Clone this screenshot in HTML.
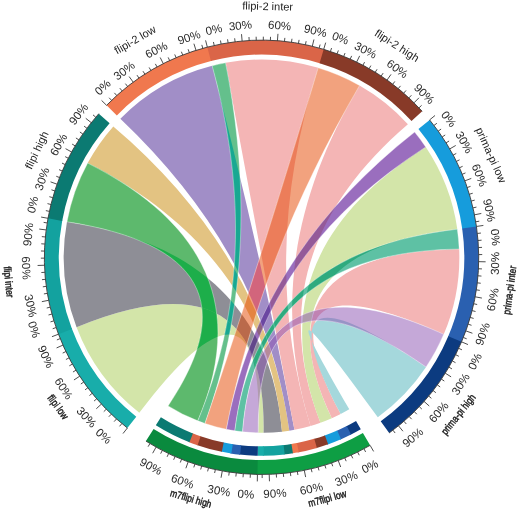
<!DOCTYPE html>
<html><head><meta charset="utf-8"><style>
html,body{margin:0;padding:0;background:#fff;}
svg{display:block;will-change:transform;}
</style></head><body>
<svg width="520" height="512" viewBox="0 0 520 512">
<rect width="520" height="512" fill="#fff"/>
<defs>
<clipPath id="cl0"><path d="M139.28,412.84 A197.8,197.8 0 0 1 76.56,327.36 C203.58,275.27 265.93,310.43 263.6,432.84 A175.5,175.5 0 0 1 258.21,432.82 C262.99,308.7 223.34,302.03 139.28,412.84 Z"/></clipPath>
<clipPath id="cl1"><path d="M76.56,327.36 A197.8,197.8 0 0 1 66.97,221.78 C200.16,242.24 271.84,312.2 282.03,431.65 A175.5,175.5 0 0 1 263.6,432.84 C265.93,310.43 203.58,275.27 76.56,327.36 Z"/></clipPath>
<clipPath id="cl2"><path d="M87.65,163.09 A197.8,197.8 0 0 1 113.29,126.41 C214.5,212.4 273.17,313.81 289.31,430.64 A175.5,175.5 0 0 1 282.03,431.65 C271.43,313.38 206.63,223.86 87.65,163.09 Z"/></clipPath>
<clipPath id="cl3"><path d="M120.35,118.83 A197.8,197.8 0 0 1 212.16,65.82 C245.34,193.45 272.76,314.76 294.44,429.74 A175.5,175.5 0 0 1 289.31,430.64 C273.03,313.97 216.71,210.03 120.35,118.83 Z"/></clipPath>
<clipPath id="cl4"><path d="M225.5,62.86 A197.8,197.8 0 0 1 318.16,67.82 C278.16,194.17 275.61,313.52 310.51,425.88 A175.5,175.5 0 0 1 294.44,429.74 C272.49,314.82 249.51,192.52 225.5,62.86 Z"/></clipPath>
<clipPath id="cl5"><path d="M359.55,85.53 A197.8,197.8 0 0 1 407.9,124.28 C306.03,211.92 276.87,311.38 320.42,422.68 A175.5,175.5 0 0 1 310.51,425.88 C274.77,313.16 291.12,199.71 359.55,85.53 Z"/></clipPath>
<clipPath id="cl6"><path d="M425.73,147.03 A197.8,197.8 0 0 1 457.33,229.17 C321.25,244.86 279.41,307.86 331.81,418.17 A175.5,175.5 0 0 1 320.42,422.68 C276.51,310.92 311.61,219.04 425.73,147.03 Z"/></clipPath>
<clipPath id="cl7"><path d="M459.18,249.07 A197.8,197.8 0 0 1 443.76,334.32 C316.8,277.88 282.44,304.44 340.68,414 A175.5,175.5 0 0 1 331.81,418.17 C279.37,307.46 321.83,251.09 459.18,249.07 Z"/></clipPath>
<clipPath id="cl8"><path d="M426.11,367.1 A197.8,197.8 0 0 1 377.81,417.37 C295.95,303.99 286.45,301.31 349.3,409.34 A175.5,175.5 0 0 1 340.68,414 C282.8,303.78 311.27,288.14 426.11,367.1 Z"/></clipPath>
</defs>
<g id="chords">
<path d="M139.28,412.84 A197.8,197.8 0 0 1 76.56,327.36 C203.58,275.27 265.93,310.43 263.6,432.84 A175.5,175.5 0 0 1 258.21,432.82 C262.99,308.7 223.34,302.03 139.28,412.84 Z" fill="#D3E5A9"/>
<path d="M76.56,327.36 A197.8,197.8 0 0 1 66.97,221.78 C200.16,242.24 271.84,312.2 282.03,431.65 A175.5,175.5 0 0 1 263.6,432.84 C265.93,310.43 203.58,275.27 76.56,327.36 Z" fill="#8E8E96"/>
<path d="M87.65,163.09 A197.8,197.8 0 0 1 113.29,126.41 C214.5,212.4 273.17,313.81 289.31,430.64 A175.5,175.5 0 0 1 282.03,431.65 C271.43,313.38 206.63,223.86 87.65,163.09 Z" fill="#E3C382"/>
<path d="M120.35,118.83 A197.8,197.8 0 0 1 212.16,65.82 C245.34,193.45 272.76,314.76 294.44,429.74 A175.5,175.5 0 0 1 289.31,430.64 C273.03,313.97 216.71,210.03 120.35,118.83 Z" fill="#A18EC7"/>
<path d="M225.5,62.86 A197.8,197.8 0 0 1 318.16,67.82 C278.16,194.17 275.61,313.52 310.51,425.88 A175.5,175.5 0 0 1 294.44,429.74 C272.49,314.82 249.51,192.52 225.5,62.86 Z" fill="#F4B5B5"/>
<path d="M359.55,85.53 A197.8,197.8 0 0 1 407.9,124.28 C306.03,211.92 276.87,311.38 320.42,422.68 A175.5,175.5 0 0 1 310.51,425.88 C274.77,313.16 291.12,199.71 359.55,85.53 Z" fill="#F4B5B5"/>
<path d="M425.73,147.03 A197.8,197.8 0 0 1 457.33,229.17 C321.25,244.86 279.41,307.86 331.81,418.17 A175.5,175.5 0 0 1 320.42,422.68 C276.51,310.92 311.61,219.04 425.73,147.03 Z" fill="#D3E5A9"/>
<path d="M459.18,249.07 A197.8,197.8 0 0 1 443.76,334.32 C316.8,277.88 282.44,304.44 340.68,414 A175.5,175.5 0 0 1 331.81,418.17 C279.37,307.46 321.83,251.09 459.18,249.07 Z" fill="#F4B5B5"/>
<path d="M426.11,367.1 A197.8,197.8 0 0 1 377.81,417.37 C295.95,303.99 286.45,301.31 349.3,409.34 A175.5,175.5 0 0 1 340.68,414 C282.8,303.78 311.27,288.14 426.11,367.1 Z" fill="#A5D8DC"/>
<path d="M66.97,221.78 A197.8,197.8 0 0 1 87.65,163.09 C208.55,224.11 245.27,310.03 197.8,420.86 A175.5,175.5 0 0 1 168.08,405.89 C236.46,304.2 202.76,242.83 66.97,221.78 Z" fill="#5DB96D"/>
<path d="M66.97,221.78 A197.8,197.8 0 0 1 87.65,163.09 C208.55,224.11 245.27,310.03 197.8,420.86 A175.5,175.5 0 0 1 168.08,405.89 C236.46,304.2 202.76,242.83 66.97,221.78 Z" fill="#1DAE4A" clip-path="url(#cl0)"/>
<path d="M66.97,221.78 A197.8,197.8 0 0 1 87.65,163.09 C208.55,224.11 245.27,310.03 197.8,420.86 A175.5,175.5 0 0 1 168.08,405.89 C236.46,304.2 202.76,242.83 66.97,221.78 Z" fill="#1DAE4A" clip-path="url(#cl1)"/>
<path d="M66.97,221.78 A197.8,197.8 0 0 1 87.65,163.09 C208.55,224.11 245.27,310.03 197.8,420.86 A175.5,175.5 0 0 1 168.08,405.89 C236.46,304.2 202.76,242.83 66.97,221.78 Z" fill="#1DAE4A" clip-path="url(#cl2)"/>
<path d="M66.97,221.78 A197.8,197.8 0 0 1 87.65,163.09 C208.55,224.11 245.27,310.03 197.8,420.86 A175.5,175.5 0 0 1 168.08,405.89 C236.46,304.2 202.76,242.83 66.97,221.78 Z" fill="#1DAE4A" clip-path="url(#cl3)"/>
<path d="M66.97,221.78 A197.8,197.8 0 0 1 87.65,163.09 C208.55,224.11 245.27,310.03 197.8,420.86 A175.5,175.5 0 0 1 168.08,405.89 C236.46,304.2 202.76,242.83 66.97,221.78 Z" fill="#1DAE4A" clip-path="url(#cl4)"/>
<path d="M66.97,221.78 A197.8,197.8 0 0 1 87.65,163.09 C208.55,224.11 245.27,310.03 197.8,420.86 A175.5,175.5 0 0 1 168.08,405.89 C236.46,304.2 202.76,242.83 66.97,221.78 Z" fill="#1DAE4A" clip-path="url(#cl5)"/>
<path d="M66.97,221.78 A197.8,197.8 0 0 1 87.65,163.09 C208.55,224.11 245.27,310.03 197.8,420.86 A175.5,175.5 0 0 1 168.08,405.89 C236.46,304.2 202.76,242.83 66.97,221.78 Z" fill="#1DAE4A" clip-path="url(#cl6)"/>
<path d="M66.97,221.78 A197.8,197.8 0 0 1 87.65,163.09 C208.55,224.11 245.27,310.03 197.8,420.86 A175.5,175.5 0 0 1 168.08,405.89 C236.46,304.2 202.76,242.83 66.97,221.78 Z" fill="#1DAE4A" clip-path="url(#cl7)"/>
<path d="M66.97,221.78 A197.8,197.8 0 0 1 87.65,163.09 C208.55,224.11 245.27,310.03 197.8,420.86 A175.5,175.5 0 0 1 168.08,405.89 C236.46,304.2 202.76,242.83 66.97,221.78 Z" fill="#1DAE4A" clip-path="url(#cl8)"/>
<path d="M66.97,221.78 A197.8,197.8 0 0 1 87.65,163.09 C208.55,224.11 245.27,310.03 197.8,420.86 A175.5,175.5 0 0 1 168.08,405.89 C236.46,304.2 202.76,242.83 66.97,221.78 Z" fill="none" stroke="#fff" stroke-opacity="0.35" stroke-width="1.0"/>
<path d="M212.16,65.82 A197.8,197.8 0 0 1 225.5,62.86 C251.55,192.67 244.72,312.88 204.99,423.49 A175.5,175.5 0 0 1 197.8,420.86 C242.75,312 247.54,193.65 212.16,65.82 Z" fill="#64C08C"/>
<path d="M212.16,65.82 A197.8,197.8 0 0 1 225.5,62.86 C251.55,192.67 244.72,312.88 204.99,423.49 A175.5,175.5 0 0 1 197.8,420.86 C242.75,312 247.54,193.65 212.16,65.82 Z" fill="#18A892" clip-path="url(#cl0)"/>
<path d="M212.16,65.82 A197.8,197.8 0 0 1 225.5,62.86 C251.55,192.67 244.72,312.88 204.99,423.49 A175.5,175.5 0 0 1 197.8,420.86 C242.75,312 247.54,193.65 212.16,65.82 Z" fill="#18A892" clip-path="url(#cl1)"/>
<path d="M212.16,65.82 A197.8,197.8 0 0 1 225.5,62.86 C251.55,192.67 244.72,312.88 204.99,423.49 A175.5,175.5 0 0 1 197.8,420.86 C242.75,312 247.54,193.65 212.16,65.82 Z" fill="#18A892" clip-path="url(#cl2)"/>
<path d="M212.16,65.82 A197.8,197.8 0 0 1 225.5,62.86 C251.55,192.67 244.72,312.88 204.99,423.49 A175.5,175.5 0 0 1 197.8,420.86 C242.75,312 247.54,193.65 212.16,65.82 Z" fill="#18A892" clip-path="url(#cl3)"/>
<path d="M212.16,65.82 A197.8,197.8 0 0 1 225.5,62.86 C251.55,192.67 244.72,312.88 204.99,423.49 A175.5,175.5 0 0 1 197.8,420.86 C242.75,312 247.54,193.65 212.16,65.82 Z" fill="#18A892" clip-path="url(#cl4)"/>
<path d="M212.16,65.82 A197.8,197.8 0 0 1 225.5,62.86 C251.55,192.67 244.72,312.88 204.99,423.49 A175.5,175.5 0 0 1 197.8,420.86 C242.75,312 247.54,193.65 212.16,65.82 Z" fill="#18A892" clip-path="url(#cl5)"/>
<path d="M212.16,65.82 A197.8,197.8 0 0 1 225.5,62.86 C251.55,192.67 244.72,312.88 204.99,423.49 A175.5,175.5 0 0 1 197.8,420.86 C242.75,312 247.54,193.65 212.16,65.82 Z" fill="#18A892" clip-path="url(#cl6)"/>
<path d="M212.16,65.82 A197.8,197.8 0 0 1 225.5,62.86 C251.55,192.67 244.72,312.88 204.99,423.49 A175.5,175.5 0 0 1 197.8,420.86 C242.75,312 247.54,193.65 212.16,65.82 Z" fill="#18A892" clip-path="url(#cl7)"/>
<path d="M212.16,65.82 A197.8,197.8 0 0 1 225.5,62.86 C251.55,192.67 244.72,312.88 204.99,423.49 A175.5,175.5 0 0 1 197.8,420.86 C242.75,312 247.54,193.65 212.16,65.82 Z" fill="#18A892" clip-path="url(#cl8)"/>
<path d="M212.16,65.82 A197.8,197.8 0 0 1 225.5,62.86 C251.55,192.67 244.72,312.88 204.99,423.49 A175.5,175.5 0 0 1 197.8,420.86 C242.75,312 247.54,193.65 212.16,65.82 Z" fill="none" stroke="#fff" stroke-opacity="0.35" stroke-width="1.0"/>
<path d="M318.16,67.82 A197.8,197.8 0 0 1 359.55,85.53 C293.04,199.63 248.66,314.22 226.41,429.3 A175.5,175.5 0 0 1 204.99,423.49 C242.84,312.78 280.56,194.22 318.16,67.82 Z" fill="#F2A27E"/>
<path d="M318.16,67.82 A197.8,197.8 0 0 1 359.55,85.53 C293.04,199.63 248.66,314.22 226.41,429.3 A175.5,175.5 0 0 1 204.99,423.49 C242.84,312.78 280.56,194.22 318.16,67.82 Z" fill="#DC9554" clip-path="url(#cl0)"/>
<path d="M318.16,67.82 A197.8,197.8 0 0 1 359.55,85.53 C293.04,199.63 248.66,314.22 226.41,429.3 A175.5,175.5 0 0 1 204.99,423.49 C242.84,312.78 280.56,194.22 318.16,67.82 Z" fill="#BA6A4B" clip-path="url(#cl1)"/>
<path d="M318.16,67.82 A197.8,197.8 0 0 1 359.55,85.53 C293.04,199.63 248.66,314.22 226.41,429.3 A175.5,175.5 0 0 1 204.99,423.49 C242.84,312.78 280.56,194.22 318.16,67.82 Z" fill="#E48441" clip-path="url(#cl2)"/>
<path d="M318.16,67.82 A197.8,197.8 0 0 1 359.55,85.53 C293.04,199.63 248.66,314.22 226.41,429.3 A175.5,175.5 0 0 1 204.99,423.49 C242.84,312.78 280.56,194.22 318.16,67.82 Z" fill="#D2657C" clip-path="url(#cl3)"/>
<path d="M318.16,67.82 A197.8,197.8 0 0 1 359.55,85.53 C293.04,199.63 248.66,314.22 226.41,429.3 A175.5,175.5 0 0 1 204.99,423.49 C242.84,312.78 280.56,194.22 318.16,67.82 Z" fill="#EC7D5A" clip-path="url(#cl4)"/>
<path d="M318.16,67.82 A197.8,197.8 0 0 1 359.55,85.53 C293.04,199.63 248.66,314.22 226.41,429.3 A175.5,175.5 0 0 1 204.99,423.49 C242.84,312.78 280.56,194.22 318.16,67.82 Z" fill="#EC7D5A" clip-path="url(#cl5)"/>
<path d="M318.16,67.82 A197.8,197.8 0 0 1 359.55,85.53 C293.04,199.63 248.66,314.22 226.41,429.3 A175.5,175.5 0 0 1 204.99,423.49 C242.84,312.78 280.56,194.22 318.16,67.82 Z" fill="#DC9554" clip-path="url(#cl6)"/>
<path d="M318.16,67.82 A197.8,197.8 0 0 1 359.55,85.53 C293.04,199.63 248.66,314.22 226.41,429.3 A175.5,175.5 0 0 1 204.99,423.49 C242.84,312.78 280.56,194.22 318.16,67.82 Z" fill="#EC7D5A" clip-path="url(#cl7)"/>
<path d="M318.16,67.82 A197.8,197.8 0 0 1 359.55,85.53 C293.04,199.63 248.66,314.22 226.41,429.3 A175.5,175.5 0 0 1 204.99,423.49 C242.84,312.78 280.56,194.22 318.16,67.82 Z" fill="#C58E6E" clip-path="url(#cl8)"/>
<path d="M318.16,67.82 A197.8,197.8 0 0 1 359.55,85.53 C293.04,199.63 248.66,314.22 226.41,429.3 A175.5,175.5 0 0 1 204.99,423.49 C242.84,312.78 280.56,194.22 318.16,67.82 Z" fill="none" stroke="#fff" stroke-opacity="0.35" stroke-width="1.0"/>
<path d="M414.66,132.12 A197.8,197.8 0 0 1 425.73,147.03 C313.56,218.85 249.94,313.45 234.85,430.81 A175.5,175.5 0 0 1 226.41,429.3 C247.54,313.28 310.29,214.22 414.66,132.12 Z" fill="#9A6EBE"/>
<path d="M414.66,132.12 A197.8,197.8 0 0 1 425.73,147.03 C313.56,218.85 249.94,313.45 234.85,430.81 A175.5,175.5 0 0 1 226.41,429.3 C247.54,313.28 310.29,214.22 414.66,132.12 Z" fill="#847293" clip-path="url(#cl0)"/>
<path d="M414.66,132.12 A197.8,197.8 0 0 1 425.73,147.03 C313.56,218.85 249.94,313.45 234.85,430.81 A175.5,175.5 0 0 1 226.41,429.3 C247.54,313.28 310.29,214.22 414.66,132.12 Z" fill="#62478A" clip-path="url(#cl1)"/>
<path d="M414.66,132.12 A197.8,197.8 0 0 1 425.73,147.03 C313.56,218.85 249.94,313.45 234.85,430.81 A175.5,175.5 0 0 1 226.41,429.3 C247.54,313.28 310.29,214.22 414.66,132.12 Z" fill="#8C6280" clip-path="url(#cl2)"/>
<path d="M414.66,132.12 A197.8,197.8 0 0 1 425.73,147.03 C313.56,218.85 249.94,313.45 234.85,430.81 A175.5,175.5 0 0 1 226.41,429.3 C247.54,313.28 310.29,214.22 414.66,132.12 Z" fill="#6B47A2" clip-path="url(#cl3)"/>
<path d="M414.66,132.12 A197.8,197.8 0 0 1 425.73,147.03 C313.56,218.85 249.94,313.45 234.85,430.81 A175.5,175.5 0 0 1 226.41,429.3 C247.54,313.28 310.29,214.22 414.66,132.12 Z" fill="#945A99" clip-path="url(#cl4)"/>
<path d="M414.66,132.12 A197.8,197.8 0 0 1 425.73,147.03 C313.56,218.85 249.94,313.45 234.85,430.81 A175.5,175.5 0 0 1 226.41,429.3 C247.54,313.28 310.29,214.22 414.66,132.12 Z" fill="#945A99" clip-path="url(#cl5)"/>
<path d="M414.66,132.12 A197.8,197.8 0 0 1 425.73,147.03 C313.56,218.85 249.94,313.45 234.85,430.81 A175.5,175.5 0 0 1 226.41,429.3 C247.54,313.28 310.29,214.22 414.66,132.12 Z" fill="#847293" clip-path="url(#cl6)"/>
<path d="M414.66,132.12 A197.8,197.8 0 0 1 425.73,147.03 C313.56,218.85 249.94,313.45 234.85,430.81 A175.5,175.5 0 0 1 226.41,429.3 C247.54,313.28 310.29,214.22 414.66,132.12 Z" fill="#945A99" clip-path="url(#cl7)"/>
<path d="M414.66,132.12 A197.8,197.8 0 0 1 425.73,147.03 C313.56,218.85 249.94,313.45 234.85,430.81 A175.5,175.5 0 0 1 226.41,429.3 C247.54,313.28 310.29,214.22 414.66,132.12 Z" fill="#6D6CAC" clip-path="url(#cl8)"/>
<path d="M414.66,132.12 A197.8,197.8 0 0 1 425.73,147.03 C313.56,218.85 249.94,313.45 234.85,430.81 A175.5,175.5 0 0 1 226.41,429.3 C247.54,313.28 310.29,214.22 414.66,132.12 Z" fill="none" stroke="#fff" stroke-opacity="0.35" stroke-width="1.0"/>
<path d="M457.33,229.17 A197.8,197.8 0 0 1 459.18,249.07 C323.86,250.78 251.67,311.7 242.6,431.82 A175.5,175.5 0 0 1 234.85,430.81 C249.3,311.79 323.46,244.57 457.33,229.17 Z" fill="#5EC1A4"/>
<path d="M457.33,229.17 A197.8,197.8 0 0 1 459.18,249.07 C323.86,250.78 251.67,311.7 242.6,431.82 A175.5,175.5 0 0 1 234.85,430.81 C249.3,311.79 323.46,244.57 457.33,229.17 Z" fill="#2EAA7E" clip-path="url(#cl0)"/>
<path d="M457.33,229.17 A197.8,197.8 0 0 1 459.18,249.07 C323.86,250.78 251.67,311.7 242.6,431.82 A175.5,175.5 0 0 1 234.85,430.81 C249.3,311.79 323.46,244.57 457.33,229.17 Z" fill="#2EAA7E" clip-path="url(#cl1)"/>
<path d="M457.33,229.17 A197.8,197.8 0 0 1 459.18,249.07 C323.86,250.78 251.67,311.7 242.6,431.82 A175.5,175.5 0 0 1 234.85,430.81 C249.3,311.79 323.46,244.57 457.33,229.17 Z" fill="#2EAA7E" clip-path="url(#cl2)"/>
<path d="M457.33,229.17 A197.8,197.8 0 0 1 459.18,249.07 C323.86,250.78 251.67,311.7 242.6,431.82 A175.5,175.5 0 0 1 234.85,430.81 C249.3,311.79 323.46,244.57 457.33,229.17 Z" fill="#2EAA7E" clip-path="url(#cl3)"/>
<path d="M457.33,229.17 A197.8,197.8 0 0 1 459.18,249.07 C323.86,250.78 251.67,311.7 242.6,431.82 A175.5,175.5 0 0 1 234.85,430.81 C249.3,311.79 323.46,244.57 457.33,229.17 Z" fill="#2EAA7E" clip-path="url(#cl4)"/>
<path d="M457.33,229.17 A197.8,197.8 0 0 1 459.18,249.07 C323.86,250.78 251.67,311.7 242.6,431.82 A175.5,175.5 0 0 1 234.85,430.81 C249.3,311.79 323.46,244.57 457.33,229.17 Z" fill="#2EAA7E" clip-path="url(#cl5)"/>
<path d="M457.33,229.17 A197.8,197.8 0 0 1 459.18,249.07 C323.86,250.78 251.67,311.7 242.6,431.82 A175.5,175.5 0 0 1 234.85,430.81 C249.3,311.79 323.46,244.57 457.33,229.17 Z" fill="#2EAA7E" clip-path="url(#cl6)"/>
<path d="M457.33,229.17 A197.8,197.8 0 0 1 459.18,249.07 C323.86,250.78 251.67,311.7 242.6,431.82 A175.5,175.5 0 0 1 234.85,430.81 C249.3,311.79 323.46,244.57 457.33,229.17 Z" fill="#2EAA7E" clip-path="url(#cl7)"/>
<path d="M457.33,229.17 A197.8,197.8 0 0 1 459.18,249.07 C323.86,250.78 251.67,311.7 242.6,431.82 A175.5,175.5 0 0 1 234.85,430.81 C249.3,311.79 323.46,244.57 457.33,229.17 Z" fill="#2EAA7E" clip-path="url(#cl8)"/>
<path d="M457.33,229.17 A197.8,197.8 0 0 1 459.18,249.07 C323.86,250.78 251.67,311.7 242.6,431.82 A175.5,175.5 0 0 1 234.85,430.81 C249.3,311.79 323.46,244.57 457.33,229.17 Z" fill="none" stroke="#fff" stroke-opacity="0.35" stroke-width="1.0"/>
<path d="M443.76,334.32 A197.8,197.8 0 0 1 426.11,367.1 C313.15,287.71 257.19,309.62 258.21,432.82 A175.5,175.5 0 0 1 242.6,431.82 C251.98,309.97 319.03,277.47 443.76,334.32 Z" fill="#C5A8D8"/>
<path d="M443.76,334.32 A197.8,197.8 0 0 1 426.11,367.1 C313.15,287.71 257.19,309.62 258.21,432.82 A175.5,175.5 0 0 1 242.6,431.82 C251.98,309.97 319.03,277.47 443.76,334.32 Z" fill="#AF9BAD" clip-path="url(#cl0)"/>
<path d="M443.76,334.32 A197.8,197.8 0 0 1 426.11,367.1 C313.15,287.71 257.19,309.62 258.21,432.82 A175.5,175.5 0 0 1 242.6,431.82 C251.98,309.97 319.03,277.47 443.76,334.32 Z" fill="#8C70A4" clip-path="url(#cl1)"/>
<path d="M443.76,334.32 A197.8,197.8 0 0 1 426.11,367.1 C313.15,287.71 257.19,309.62 258.21,432.82 A175.5,175.5 0 0 1 242.6,431.82 C251.98,309.97 319.03,277.47 443.76,334.32 Z" fill="#B78A9A" clip-path="url(#cl2)"/>
<path d="M443.76,334.32 A197.8,197.8 0 0 1 426.11,367.1 C313.15,287.71 257.19,309.62 258.21,432.82 A175.5,175.5 0 0 1 242.6,431.82 C251.98,309.97 319.03,277.47 443.76,334.32 Z" fill="#9670BC" clip-path="url(#cl3)"/>
<path d="M443.76,334.32 A197.8,197.8 0 0 1 426.11,367.1 C313.15,287.71 257.19,309.62 258.21,432.82 A175.5,175.5 0 0 1 242.6,431.82 C251.98,309.97 319.03,277.47 443.76,334.32 Z" fill="#C083B3" clip-path="url(#cl4)"/>
<path d="M443.76,334.32 A197.8,197.8 0 0 1 426.11,367.1 C313.15,287.71 257.19,309.62 258.21,432.82 A175.5,175.5 0 0 1 242.6,431.82 C251.98,309.97 319.03,277.47 443.76,334.32 Z" fill="#C083B3" clip-path="url(#cl5)"/>
<path d="M443.76,334.32 A197.8,197.8 0 0 1 426.11,367.1 C313.15,287.71 257.19,309.62 258.21,432.82 A175.5,175.5 0 0 1 242.6,431.82 C251.98,309.97 319.03,277.47 443.76,334.32 Z" fill="#AF9BAD" clip-path="url(#cl6)"/>
<path d="M443.76,334.32 A197.8,197.8 0 0 1 426.11,367.1 C313.15,287.71 257.19,309.62 258.21,432.82 A175.5,175.5 0 0 1 242.6,431.82 C251.98,309.97 319.03,277.47 443.76,334.32 Z" fill="#C083B3" clip-path="url(#cl7)"/>
<path d="M443.76,334.32 A197.8,197.8 0 0 1 426.11,367.1 C313.15,287.71 257.19,309.62 258.21,432.82 A175.5,175.5 0 0 1 242.6,431.82 C251.98,309.97 319.03,277.47 443.76,334.32 Z" fill="#9894C6" clip-path="url(#cl8)"/>
<path d="M443.76,334.32 A197.8,197.8 0 0 1 426.11,367.1 C313.15,287.71 257.19,309.62 258.21,432.82 A175.5,175.5 0 0 1 242.6,431.82 C251.98,309.97 319.03,277.47 443.76,334.32 Z" fill="none" stroke="#fff" stroke-opacity="0.35" stroke-width="1.0"/>
</g>
<g id="bands">
<path d="M106.57,105.32 A217.1,217.1 0 0 1 208.44,46.85 L211.97,60.81 A202.7,202.7 0 0 0 116.85,115.4 Z" fill="#F0784E"/>
<path d="M207.34,47.13 A217.1,217.1 0 0 1 324.78,49.66 L320.58,63.44 A202.7,202.7 0 0 0 210.94,61.07 Z" fill="#DA6548"/>
<path d="M323.69,49.33 A217.1,217.1 0 0 1 422.18,111.3 L411.53,120.99 A202.7,202.7 0 0 0 319.57,63.13 Z" fill="#883A28"/>
<path d="M429.61,119.91 A217.1,217.1 0 0 1 476.6,227.56 L462.33,229.54 A202.7,202.7 0 0 0 418.46,129.03 Z" fill="#169CDC"/>
<path d="M476.44,226.44 A217.1,217.1 0 0 1 461.09,342.89 L447.85,337.22 A202.7,202.7 0 0 0 462.18,228.49 Z" fill="#2A60B0"/>
<path d="M461.53,341.84 A217.1,217.1 0 0 1 389.17,432.98 L380.71,421.33 A202.7,202.7 0 0 0 448.27,336.24 Z" fill="#0C3B80"/>
<path d="M370.12,445.36 A217.1,217.1 0 0 1 256.3,474.39 L256.65,459.99 A202.7,202.7 0 0 0 362.91,432.89 Z" fill="#0E9E44"/>
<path d="M257.43,474.41 A217.1,217.1 0 0 1 145.94,441.1 L153.6,428.92 A202.7,202.7 0 0 0 257.71,460.01 Z" fill="#0A8A3E"/>
<path d="M127.36,428.01 A217.1,217.1 0 0 1 58.11,333.14 L71.6,328.11 A202.7,202.7 0 0 0 136.26,416.69 Z" fill="#18ADAA"/>
<path d="M58.51,334.2 A217.1,217.1 0 0 1 48.2,217.19 L62.35,219.86 A202.7,202.7 0 0 0 71.98,329.1 Z" fill="#13A29F"/>
<path d="M47.99,218.31 A217.1,217.1 0 0 1 98.83,113.64 L109.62,123.17 A202.7,202.7 0 0 0 62.15,220.9 Z" fill="#0B7A72"/>
</g>
<g id="tb">
<path d="M360.8,429.26 A198.5,198.5 0 0 1 350.12,434.99 L345.88,426.49 A189,189 0 0 0 356.05,421.03 Z" fill="#0C3B80"/>
<path d="M351.05,434.53 A198.5,198.5 0 0 1 340.07,439.66 L336.31,430.94 A189,189 0 0 0 346.77,426.05 Z" fill="#2A60B0"/>
<path d="M341.02,439.25 A198.5,198.5 0 0 1 327.16,444.69 L324.02,435.73 A189,189 0 0 0 337.22,430.54 Z" fill="#169CDC"/>
<path d="M328.14,444.35 A198.5,198.5 0 0 1 315.93,448.26 L313.33,439.12 A189,189 0 0 0 324.95,435.4 Z" fill="#883A28"/>
<path d="M316.93,447.97 A198.5,198.5 0 0 1 297.72,452.53 L295.99,443.19 A189,189 0 0 0 314.28,438.85 Z" fill="#DA6548"/>
<path d="M298.75,452.33 A198.5,198.5 0 0 1 291.92,453.51 L290.46,444.13 A189,189 0 0 0 296.97,443 Z" fill="#F0784E"/>
<path d="M292.94,453.35 A198.5,198.5 0 0 1 283.68,454.61 L282.62,445.17 A189,189 0 0 0 291.44,443.97 Z" fill="#0B7A72"/>
<path d="M284.71,454.49 A198.5,198.5 0 0 1 262.83,455.85 L262.77,446.35 A189,189 0 0 0 283.6,445.06 Z" fill="#13A29F"/>
<path d="M263.87,455.84 A198.5,198.5 0 0 1 257.77,455.81 L257.95,446.32 A189,189 0 0 0 263.76,446.34 Z" fill="#18ADAA"/>
<path d="M257.77,455.81 A198.5,198.5 0 0 1 239.08,454.57 L240.15,445.14 A189,189 0 0 0 257.95,446.32 Z" fill="#0C3B80"/>
<path d="M240.11,454.69 A198.5,198.5 0 0 1 230.33,453.38 L231.82,444 A189,189 0 0 0 241.14,445.24 Z" fill="#2A60B0"/>
<path d="M231.35,453.54 A198.5,198.5 0 0 1 220.79,451.62 L222.74,442.32 A189,189 0 0 0 232.8,444.15 Z" fill="#169CDC"/>
<path d="M221.81,451.83 A198.5,198.5 0 0 1 196.6,444.92 L199.71,435.95 A189,189 0 0 0 223.71,442.52 Z" fill="#883A28"/>
<path d="M197.58,445.26 A198.5,198.5 0 0 1 188.48,441.91 L191.97,433.08 A189,189 0 0 0 200.64,436.27 Z" fill="#DA6548"/>
<path d="M189.44,442.29 A198.5,198.5 0 0 1 155.83,425.36 L160.89,417.32 A189,189 0 0 0 192.9,433.44 Z" fill="#0B7A72"/>
</g>
<g id="axis" stroke="#3a3a3a" fill="none">
<path d="M106.57,105.32 A217.1,217.1 0 0 1 207.34,47.13" stroke-width="0.9"/>
<line x1="106.57" y1="105.32" x2="101.57" y2="100.42" stroke-width="0.9"/>
<line x1="111.6" y1="100.35" x2="109.12" y2="97.75" stroke-width="0.9"/>
<line x1="116.79" y1="95.56" x2="114.39" y2="92.87" stroke-width="0.9"/>
<line x1="122.14" y1="90.93" x2="119.82" y2="88.17" stroke-width="0.9"/>
<line x1="127.63" y1="86.48" x2="125.41" y2="83.65" stroke-width="0.9"/>
<line x1="133.26" y1="82.21" x2="129.12" y2="76.56" stroke-width="0.9"/>
<line x1="139.03" y1="78.13" x2="137" y2="75.15" stroke-width="0.9"/>
<line x1="144.93" y1="74.23" x2="142.99" y2="71.2" stroke-width="0.9"/>
<line x1="150.95" y1="70.53" x2="149.12" y2="67.44" stroke-width="0.9"/>
<line x1="157.09" y1="67.03" x2="155.36" y2="63.88" stroke-width="0.9"/>
<line x1="163.34" y1="63.73" x2="160.18" y2="57.49" stroke-width="0.9"/>
<line x1="169.7" y1="60.64" x2="168.17" y2="57.38" stroke-width="0.9"/>
<line x1="176.15" y1="57.75" x2="174.73" y2="54.44" stroke-width="0.9"/>
<line x1="182.69" y1="55.08" x2="181.38" y2="51.72" stroke-width="0.9"/>
<line x1="189.32" y1="52.62" x2="188.12" y2="49.22" stroke-width="0.9"/>
<line x1="196.02" y1="50.38" x2="193.91" y2="43.7" stroke-width="0.9"/>
<line x1="202.79" y1="48.35" x2="201.82" y2="44.89" stroke-width="0.9"/>
<path d="M207.34,47.13 A217.1,217.1 0 0 1 323.69,49.33" stroke-width="0.9"/>
<line x1="207.34" y1="47.13" x2="205.59" y2="40.35" stroke-width="0.9"/>
<line x1="214.21" y1="45.47" x2="213.43" y2="41.96" stroke-width="0.9"/>
<line x1="221.14" y1="44.04" x2="220.47" y2="40.51" stroke-width="0.9"/>
<line x1="228.1" y1="42.84" x2="227.55" y2="39.29" stroke-width="0.9"/>
<line x1="235.1" y1="41.87" x2="234.66" y2="38.29" stroke-width="0.9"/>
<line x1="242.13" y1="41.12" x2="241.5" y2="34.15" stroke-width="0.9"/>
<line x1="249.18" y1="40.6" x2="248.97" y2="37.01" stroke-width="0.9"/>
<line x1="256.24" y1="40.31" x2="256.15" y2="36.72" stroke-width="0.9"/>
<line x1="263.31" y1="40.26" x2="263.34" y2="36.66" stroke-width="0.9"/>
<line x1="270.38" y1="40.43" x2="270.52" y2="36.83" stroke-width="0.9"/>
<line x1="277.43" y1="40.83" x2="277.94" y2="33.85" stroke-width="0.9"/>
<line x1="284.47" y1="41.46" x2="284.85" y2="37.88" stroke-width="0.9"/>
<line x1="291.49" y1="42.32" x2="291.98" y2="38.76" stroke-width="0.9"/>
<line x1="298.47" y1="43.41" x2="299.08" y2="39.87" stroke-width="0.9"/>
<line x1="305.42" y1="44.73" x2="306.14" y2="41.2" stroke-width="0.9"/>
<line x1="312.31" y1="46.27" x2="313.95" y2="39.46" stroke-width="0.9"/>
<line x1="319.16" y1="48.03" x2="320.11" y2="44.56" stroke-width="0.9"/>
<path d="M323.69,49.33 A217.1,217.1 0 0 1 422.18,111.3" stroke-width="0.9"/>
<line x1="323.69" y1="49.33" x2="325.69" y2="42.63" stroke-width="0.9"/>
<line x1="330.43" y1="51.47" x2="331.57" y2="48.05" stroke-width="0.9"/>
<line x1="337.09" y1="53.82" x2="338.35" y2="50.44" stroke-width="0.9"/>
<line x1="343.68" y1="56.38" x2="345.04" y2="53.05" stroke-width="0.9"/>
<line x1="350.18" y1="59.16" x2="351.65" y2="55.88" stroke-width="0.9"/>
<line x1="356.58" y1="62.15" x2="359.65" y2="55.86" stroke-width="0.9"/>
<line x1="362.88" y1="65.35" x2="364.57" y2="62.17" stroke-width="0.9"/>
<line x1="369.08" y1="68.75" x2="370.86" y2="65.62" stroke-width="0.9"/>
<line x1="375.16" y1="72.35" x2="377.05" y2="69.28" stroke-width="0.9"/>
<line x1="381.13" y1="76.15" x2="383.11" y2="73.14" stroke-width="0.9"/>
<line x1="386.96" y1="80.14" x2="391" y2="74.42" stroke-width="0.9"/>
<line x1="392.66" y1="84.31" x2="394.84" y2="81.44" stroke-width="0.9"/>
<line x1="398.23" y1="88.67" x2="400.49" y2="85.88" stroke-width="0.9"/>
<line x1="403.64" y1="93.21" x2="406" y2="90.49" stroke-width="0.9"/>
<line x1="408.91" y1="97.92" x2="411.36" y2="95.28" stroke-width="0.9"/>
<line x1="414.02" y1="102.81" x2="418.94" y2="97.82" stroke-width="0.9"/>
<line x1="418.97" y1="107.85" x2="421.58" y2="105.37" stroke-width="0.9"/>
<path d="M429.61,119.91 A217.1,217.1 0 0 1 476.44,226.44" stroke-width="0.9"/>
<line x1="429.61" y1="119.91" x2="435.02" y2="115.48" stroke-width="0.9"/>
<line x1="433.99" y1="125.45" x2="436.85" y2="123.27" stroke-width="0.9"/>
<line x1="438.19" y1="131.14" x2="441.12" y2="129.04" stroke-width="0.9"/>
<line x1="442.21" y1="136.95" x2="445.2" y2="134.96" stroke-width="0.9"/>
<line x1="446.03" y1="142.9" x2="449.09" y2="141" stroke-width="0.9"/>
<line x1="449.66" y1="148.96" x2="455.72" y2="145.47" stroke-width="0.9"/>
<line x1="453.09" y1="155.14" x2="456.26" y2="153.45" stroke-width="0.9"/>
<line x1="456.31" y1="161.43" x2="459.54" y2="159.84" stroke-width="0.9"/>
<line x1="459.33" y1="167.82" x2="462.61" y2="166.34" stroke-width="0.9"/>
<line x1="462.14" y1="174.31" x2="465.47" y2="172.93" stroke-width="0.9"/>
<line x1="464.74" y1="180.88" x2="471.29" y2="178.42" stroke-width="0.9"/>
<line x1="467.12" y1="187.54" x2="470.53" y2="186.38" stroke-width="0.9"/>
<line x1="469.28" y1="194.27" x2="472.73" y2="193.22" stroke-width="0.9"/>
<line x1="471.23" y1="201.06" x2="474.7" y2="200.13" stroke-width="0.9"/>
<line x1="472.95" y1="207.92" x2="476.45" y2="207.1" stroke-width="0.9"/>
<line x1="474.44" y1="214.83" x2="481.31" y2="213.46" stroke-width="0.9"/>
<line x1="475.72" y1="221.78" x2="479.27" y2="221.19" stroke-width="0.9"/>
<path d="M476.44,226.44 A217.1,217.1 0 0 1 461.53,341.84" stroke-width="0.9"/>
<line x1="476.44" y1="226.44" x2="483.37" y2="225.44" stroke-width="0.9"/>
<line x1="477.33" y1="233.45" x2="480.91" y2="233.05" stroke-width="0.9"/>
<line x1="477.99" y1="240.48" x2="481.58" y2="240.2" stroke-width="0.9"/>
<line x1="478.43" y1="247.54" x2="482.02" y2="247.38" stroke-width="0.9"/>
<line x1="478.63" y1="254.6" x2="482.23" y2="254.56" stroke-width="0.9"/>
<line x1="478.61" y1="261.67" x2="485.61" y2="261.81" stroke-width="0.9"/>
<line x1="478.35" y1="268.74" x2="481.95" y2="268.92" stroke-width="0.9"/>
<line x1="477.87" y1="275.79" x2="481.45" y2="276.09" stroke-width="0.9"/>
<line x1="477.15" y1="282.82" x2="480.73" y2="283.24" stroke-width="0.9"/>
<line x1="476.21" y1="289.82" x2="479.77" y2="290.36" stroke-width="0.9"/>
<line x1="475.04" y1="296.79" x2="481.92" y2="298.07" stroke-width="0.9"/>
<line x1="473.64" y1="303.72" x2="477.16" y2="304.49" stroke-width="0.9"/>
<line x1="472.02" y1="310.6" x2="475.51" y2="311.49" stroke-width="0.9"/>
<line x1="470.17" y1="317.43" x2="473.63" y2="318.42" stroke-width="0.9"/>
<line x1="468.11" y1="324.19" x2="471.53" y2="325.29" stroke-width="0.9"/>
<line x1="465.82" y1="330.87" x2="472.41" y2="333.24" stroke-width="0.9"/>
<line x1="463.32" y1="337.48" x2="466.67" y2="338.81" stroke-width="0.9"/>
<path d="M461.53,341.84 A217.1,217.1 0 0 1 389.17,432.98" stroke-width="0.9"/>
<line x1="461.53" y1="341.84" x2="467.98" y2="344.57" stroke-width="0.9"/>
<line x1="458.68" y1="348.31" x2="461.95" y2="349.82" stroke-width="0.9"/>
<line x1="455.61" y1="354.68" x2="458.83" y2="356.29" stroke-width="0.9"/>
<line x1="452.34" y1="360.94" x2="455.5" y2="362.66" stroke-width="0.9"/>
<line x1="448.87" y1="367.1" x2="451.97" y2="368.92" stroke-width="0.9"/>
<line x1="445.19" y1="373.14" x2="451.12" y2="376.87" stroke-width="0.9"/>
<line x1="441.33" y1="379.06" x2="444.31" y2="381.07" stroke-width="0.9"/>
<line x1="437.27" y1="384.84" x2="440.18" y2="386.96" stroke-width="0.9"/>
<line x1="433.03" y1="390.5" x2="435.87" y2="392.7" stroke-width="0.9"/>
<line x1="428.6" y1="396.01" x2="431.37" y2="398.31" stroke-width="0.9"/>
<line x1="424" y1="401.37" x2="429.24" y2="406.02" stroke-width="0.9"/>
<line x1="419.23" y1="406.58" x2="421.84" y2="409.06" stroke-width="0.9"/>
<line x1="414.28" y1="411.64" x2="416.82" y2="414.2" stroke-width="0.9"/>
<line x1="409.18" y1="416.53" x2="411.63" y2="419.17" stroke-width="0.9"/>
<line x1="403.92" y1="421.25" x2="406.28" y2="423.97" stroke-width="0.9"/>
<line x1="398.51" y1="425.8" x2="402.93" y2="431.23" stroke-width="0.9"/>
<line x1="392.95" y1="430.17" x2="395.13" y2="433.03" stroke-width="0.9"/>
<path d="M370.12,445.36 A217.1,217.1 0 0 1 257.43,474.41" stroke-width="0.9"/>
<line x1="370.12" y1="445.36" x2="373.62" y2="451.42" stroke-width="0.9"/>
<line x1="363.94" y1="448.79" x2="365.64" y2="451.96" stroke-width="0.9"/>
<line x1="357.65" y1="452.02" x2="359.24" y2="455.25" stroke-width="0.9"/>
<line x1="351.26" y1="455.05" x2="352.75" y2="458.32" stroke-width="0.9"/>
<line x1="344.78" y1="457.86" x2="346.16" y2="461.19" stroke-width="0.9"/>
<line x1="338.21" y1="460.47" x2="340.68" y2="467.01" stroke-width="0.9"/>
<line x1="331.56" y1="462.85" x2="332.72" y2="466.26" stroke-width="0.9"/>
<line x1="324.83" y1="465.02" x2="325.88" y2="468.47" stroke-width="0.9"/>
<line x1="318.04" y1="466.97" x2="318.97" y2="470.45" stroke-width="0.9"/>
<line x1="311.18" y1="468.7" x2="312.01" y2="472.21" stroke-width="0.9"/>
<line x1="304.28" y1="470.2" x2="305.65" y2="477.07" stroke-width="0.9"/>
<line x1="297.32" y1="471.48" x2="297.92" y2="475.03" stroke-width="0.9"/>
<line x1="290.33" y1="472.53" x2="290.81" y2="476.1" stroke-width="0.9"/>
<line x1="283.31" y1="473.36" x2="283.68" y2="476.94" stroke-width="0.9"/>
<line x1="276.27" y1="473.95" x2="276.52" y2="477.54" stroke-width="0.9"/>
<line x1="269.21" y1="474.31" x2="269.46" y2="481.31" stroke-width="0.9"/>
<line x1="262.15" y1="474.45" x2="262.16" y2="478.05" stroke-width="0.9"/>
<path d="M257.43,474.41 A217.1,217.1 0 0 1 145.94,441.1" stroke-width="0.9"/>
<line x1="257.43" y1="474.41" x2="257.3" y2="481.41" stroke-width="0.9"/>
<line x1="250.37" y1="474.16" x2="250.19" y2="477.76" stroke-width="0.9"/>
<line x1="243.32" y1="473.68" x2="243.02" y2="477.27" stroke-width="0.9"/>
<line x1="236.29" y1="472.98" x2="235.87" y2="476.55" stroke-width="0.9"/>
<line x1="229.28" y1="472.04" x2="228.75" y2="475.6" stroke-width="0.9"/>
<line x1="222.31" y1="470.87" x2="221.04" y2="477.76" stroke-width="0.9"/>
<line x1="215.38" y1="469.48" x2="214.61" y2="473" stroke-width="0.9"/>
<line x1="208.5" y1="467.87" x2="207.62" y2="471.36" stroke-width="0.9"/>
<line x1="201.67" y1="466.03" x2="200.68" y2="469.49" stroke-width="0.9"/>
<line x1="194.91" y1="463.97" x2="193.81" y2="467.4" stroke-width="0.9"/>
<line x1="188.22" y1="461.69" x2="185.86" y2="468.28" stroke-width="0.9"/>
<line x1="181.61" y1="459.2" x2="180.28" y2="462.54" stroke-width="0.9"/>
<line x1="175.08" y1="456.49" x2="173.65" y2="459.79" stroke-width="0.9"/>
<line x1="168.64" y1="453.57" x2="167.1" y2="456.82" stroke-width="0.9"/>
<line x1="162.31" y1="450.44" x2="160.66" y2="453.64" stroke-width="0.9"/>
<line x1="156.07" y1="447.1" x2="152.67" y2="453.22" stroke-width="0.9"/>
<line x1="149.95" y1="443.57" x2="148.1" y2="446.66" stroke-width="0.9"/>
<path d="M127.36,428.01 A217.1,217.1 0 0 1 58.51,334.2" stroke-width="0.9"/>
<line x1="127.36" y1="428.01" x2="123.03" y2="433.52" stroke-width="0.9"/>
<line x1="121.88" y1="423.55" x2="119.56" y2="426.31" stroke-width="0.9"/>
<line x1="116.54" y1="418.92" x2="114.14" y2="421.6" stroke-width="0.9"/>
<line x1="111.36" y1="414.11" x2="108.87" y2="416.71" stroke-width="0.9"/>
<line x1="106.33" y1="409.14" x2="103.76" y2="411.66" stroke-width="0.9"/>
<line x1="101.48" y1="404.01" x2="96.31" y2="408.74" stroke-width="0.9"/>
<line x1="96.79" y1="398.72" x2="94.05" y2="401.06" stroke-width="0.9"/>
<line x1="92.27" y1="393.28" x2="89.46" y2="395.54" stroke-width="0.9"/>
<line x1="87.94" y1="387.7" x2="85.06" y2="389.86" stroke-width="0.9"/>
<line x1="83.79" y1="381.98" x2="80.84" y2="384.04" stroke-width="0.9"/>
<line x1="79.82" y1="376.13" x2="73.96" y2="379.96" stroke-width="0.9"/>
<line x1="76.05" y1="370.15" x2="72.98" y2="372.02" stroke-width="0.9"/>
<line x1="72.48" y1="364.05" x2="69.34" y2="365.82" stroke-width="0.9"/>
<line x1="69.11" y1="357.84" x2="65.91" y2="359.5" stroke-width="0.9"/>
<line x1="65.94" y1="351.52" x2="62.69" y2="353.08" stroke-width="0.9"/>
<line x1="62.97" y1="345.1" x2="56.57" y2="347.93" stroke-width="0.9"/>
<line x1="60.22" y1="338.59" x2="56.89" y2="339.94" stroke-width="0.9"/>
<path d="M58.51,334.2 A217.1,217.1 0 0 1 47.99,218.31" stroke-width="0.9"/>
<line x1="58.51" y1="334.2" x2="51.96" y2="336.68" stroke-width="0.9"/>
<line x1="56.11" y1="327.55" x2="52.71" y2="328.72" stroke-width="0.9"/>
<line x1="53.94" y1="320.83" x2="50.49" y2="321.88" stroke-width="0.9"/>
<line x1="51.98" y1="314.04" x2="48.51" y2="314.98" stroke-width="0.9"/>
<line x1="50.25" y1="307.18" x2="46.74" y2="308.01" stroke-width="0.9"/>
<line x1="48.74" y1="300.28" x2="41.87" y2="301.66" stroke-width="0.9"/>
<line x1="47.45" y1="293.33" x2="43.9" y2="293.92" stroke-width="0.9"/>
<line x1="46.39" y1="286.34" x2="42.83" y2="286.82" stroke-width="0.9"/>
<line x1="45.56" y1="279.32" x2="41.98" y2="279.68" stroke-width="0.9"/>
<line x1="44.96" y1="272.28" x2="41.37" y2="272.53" stroke-width="0.9"/>
<line x1="44.59" y1="265.22" x2="37.6" y2="265.47" stroke-width="0.9"/>
<line x1="44.45" y1="258.15" x2="40.85" y2="258.17" stroke-width="0.9"/>
<line x1="44.54" y1="251.09" x2="40.94" y2="250.98" stroke-width="0.9"/>
<line x1="44.86" y1="244.02" x2="41.27" y2="243.8" stroke-width="0.9"/>
<line x1="45.41" y1="236.98" x2="41.82" y2="236.64" stroke-width="0.9"/>
<line x1="46.19" y1="229.95" x2="39.24" y2="229.07" stroke-width="0.9"/>
<line x1="47.19" y1="222.96" x2="43.64" y2="222.39" stroke-width="0.9"/>
<path d="M47.99,218.31 A217.1,217.1 0 0 1 98.83,113.64" stroke-width="0.9"/>
<line x1="47.99" y1="218.31" x2="41.1" y2="217.05" stroke-width="0.9"/>
<line x1="49.37" y1="211.38" x2="45.85" y2="210.62" stroke-width="0.9"/>
<line x1="50.98" y1="204.5" x2="47.49" y2="203.62" stroke-width="0.9"/>
<line x1="52.81" y1="197.67" x2="49.35" y2="196.68" stroke-width="0.9"/>
<line x1="54.87" y1="190.91" x2="51.44" y2="189.81" stroke-width="0.9"/>
<line x1="57.14" y1="184.22" x2="50.55" y2="181.86" stroke-width="0.9"/>
<line x1="59.63" y1="177.6" x2="56.28" y2="176.28" stroke-width="0.9"/>
<line x1="62.33" y1="171.07" x2="59.03" y2="169.64" stroke-width="0.9"/>
<line x1="65.25" y1="164.63" x2="61.99" y2="163.09" stroke-width="0.9"/>
<line x1="68.37" y1="158.29" x2="65.16" y2="156.65" stroke-width="0.9"/>
<line x1="71.69" y1="152.05" x2="65.57" y2="148.66" stroke-width="0.9"/>
<line x1="75.22" y1="145.93" x2="72.13" y2="144.08" stroke-width="0.9"/>
<line x1="78.95" y1="139.92" x2="75.92" y2="137.97" stroke-width="0.9"/>
<line x1="82.87" y1="134.04" x2="79.91" y2="132" stroke-width="0.9"/>
<line x1="86.98" y1="128.29" x2="84.08" y2="126.15" stroke-width="0.9"/>
<line x1="91.27" y1="122.67" x2="85.78" y2="118.33" stroke-width="0.9"/>
<line x1="95.75" y1="117.2" x2="93" y2="114.88" stroke-width="0.9"/>
</g>
<g id="ticklabels" font-family="Liberation Sans, sans-serif" fill="#2a2a2a">
<text transform="translate(105.43 90.23) rotate(-43.05)" font-size="11.6" text-anchor="middle">0%</text>
<text transform="translate(126.56 73.85) rotate(-36.34)" font-size="11.6" text-anchor="middle">30%</text>
<text transform="translate(158.08 53.5) rotate(-26.91)" font-size="11.6" text-anchor="middle">60%</text>
<text transform="translate(190.2 41.04) rotate(-18.26)" font-size="11.6" text-anchor="middle">90%</text>
<text transform="translate(214.6 33.46) rotate(-11.84)" font-size="11.6" text-anchor="middle">0%</text>
<text transform="translate(240.73 29.49) rotate(-5.22)" font-size="11.6" text-anchor="middle">30%</text>
<text transform="translate(279.33 29.49) rotate(4.46)" font-size="11.6" text-anchor="middle">60%</text>
<text transform="translate(314.44 34.74) rotate(13.37)" font-size="11.6" text-anchor="middle">90%</text>
<text transform="translate(339.09 41.81) rotate(19.79)" font-size="11.6" text-anchor="middle">0%</text>
<text transform="translate(363.84 53.71) rotate(26.67)" font-size="11.6" text-anchor="middle">30%</text>
<text transform="translate(395.07 72.07) rotate(35.78)" font-size="11.6" text-anchor="middle">60%</text>
<text transform="translate(421.47 96.64) rotate(44.86)" font-size="11.6" text-anchor="middle">90%</text>
<text transform="translate(445.56 121.37) rotate(53.54)" font-size="11.6" text-anchor="middle">0%</text>
<text transform="translate(460.69 144.25) rotate(60.41)" font-size="11.6" text-anchor="middle">30%</text>
<text transform="translate(475.71 176.57) rotate(69.33)" font-size="11.6" text-anchor="middle">60%</text>
<text transform="translate(485.43 211.04) rotate(78.31)" font-size="11.6" text-anchor="middle">90%</text>
<text transform="translate(491.36 237.56) rotate(85.08)" font-size="11.6" text-anchor="middle">0%</text>
<text transform="translate(499.05 263.51) rotate(-88.51)" font-size="11.6" text-anchor="middle">30%</text>
<text transform="translate(496.69 300.25) rotate(-79.66)" font-size="11.6" text-anchor="middle">60%</text>
<text transform="translate(486.42 335.26) rotate(-70.89)" font-size="11.6" text-anchor="middle">90%</text>
<text transform="translate(478.53 363.32) rotate(-63.97)" font-size="11.6" text-anchor="middle">0%</text>
<text transform="translate(464 386.23) rotate(-57.52)" font-size="11.6" text-anchor="middle">30%</text>
<text transform="translate(441.73 414.83) rotate(-48.85)" font-size="11.6" text-anchor="middle">60%</text>
<text transform="translate(415.27 440.58) rotate(-39.99)" font-size="11.6" text-anchor="middle">90%</text>
<text transform="translate(371.71 469.99) rotate(-27.39)" font-size="11.6" text-anchor="middle">0%</text>
<text transform="translate(347.69 482.28) rotate(-20.95)" font-size="11.6" text-anchor="middle">30%</text>
<text transform="translate(312.17 492.56) rotate(-12.15)" font-size="11.6" text-anchor="middle">60%</text>
<text transform="translate(275.13 497.35) rotate(-3.24)" font-size="11.6" text-anchor="middle">90%</text>
<text transform="translate(245.63 498.04) rotate(3.79)" font-size="11.6" text-anchor="middle">0%</text>
<text transform="translate(218.25 494.59) rotate(10.34)" font-size="11.6" text-anchor="middle">30%</text>
<text transform="translate(181.22 485.02) rotate(19.44)" font-size="11.6" text-anchor="middle">60%</text>
<text transform="translate(149.06 469.97) rotate(27.88)" font-size="11.6" text-anchor="middle">90%</text>
<text transform="translate(100.95 439.11) rotate(41.46)" font-size="11.6" text-anchor="middle">0%</text>
<text transform="translate(83.53 419.8) rotate(47.62)" font-size="11.6" text-anchor="middle">30%</text>
<text transform="translate(60.34 390.69) rotate(56.47)" font-size="11.6" text-anchor="middle">60%</text>
<text transform="translate(42.23 358.34) rotate(65.28)" font-size="11.6" text-anchor="middle">90%</text>
<text transform="translate(30.34 330.66) rotate(72.41)" font-size="11.6" text-anchor="middle">0%</text>
<text transform="translate(26.74 306.55) rotate(78.17)" font-size="11.6" text-anchor="middle">30%</text>
<text transform="translate(22.25 268.09) rotate(87.43)" font-size="11.6" text-anchor="middle">60%</text>
<text transform="translate(32.23 234.9) rotate(-84.41)" font-size="11.6" text-anchor="middle">90%</text>
<text transform="translate(36.55 205.53) rotate(-77.03)" font-size="11.6" text-anchor="middle">0%</text>
<text transform="translate(45.91 180.2) rotate(-70.31)" font-size="11.6" text-anchor="middle">30%</text>
<text transform="translate(62.13 146.52) rotate(-60.94)" font-size="11.6" text-anchor="middle">60%</text>
<text transform="translate(81.77 116.56) rotate(-51.93)" font-size="11.6" text-anchor="middle">90%</text>
</g>
<g id="names" font-family="Liberation Sans, sans-serif" fill="#222">
<text transform="translate(136.94 42.97) rotate(-30.17)" font-size="11" text-anchor="middle">flipi-2 low</text>
<text transform="translate(267.63 10.01) rotate(1.41)" font-size="11" text-anchor="middle">flipi-2 inter</text>
<text transform="translate(394.96 48.71) rotate(32.6)" font-size="11" text-anchor="middle">flipi-2 high</text>
<text transform="translate(487.59 156.56) rotate(65.97)" font-size="11" text-anchor="middle">prima-pi low</text>
<text transform="translate(513.18 290.55) rotate(-82.48) scale(0.81 1)" font-size="10.4" text-anchor="middle" stroke="#222" stroke-width="0.45">prima-pi inter</text>
<text transform="translate(461.11 416.49) rotate(-51.43) scale(0.81 1)" font-size="10.4" text-anchor="middle" stroke="#222" stroke-width="0.45">prima-pi high</text>
<text transform="translate(328.11 501.91) rotate(-15.23) scale(0.81 1)" font-size="10.4" text-anchor="middle" stroke="#222" stroke-width="0.45">m7flipi low</text>
<text transform="translate(189.94 501.9) rotate(16.32) scale(0.81 1)" font-size="10.4" text-anchor="middle" stroke="#222" stroke-width="0.45">m7flipi high</text>
<text transform="translate(55.22 409.1) rotate(53.67) scale(0.81 1)" font-size="10.4" text-anchor="middle" stroke="#222" stroke-width="0.45">flipi low</text>
<text transform="translate(5.21 282.26) rotate(84.45) scale(0.81 1)" font-size="10.4" text-anchor="middle" stroke="#222" stroke-width="0.45">flipi inter</text>
<text transform="translate(40.18 151.73) rotate(-64.49)" font-size="11" text-anchor="middle">flipi high</text>
</g>
</svg>
</body></html>
